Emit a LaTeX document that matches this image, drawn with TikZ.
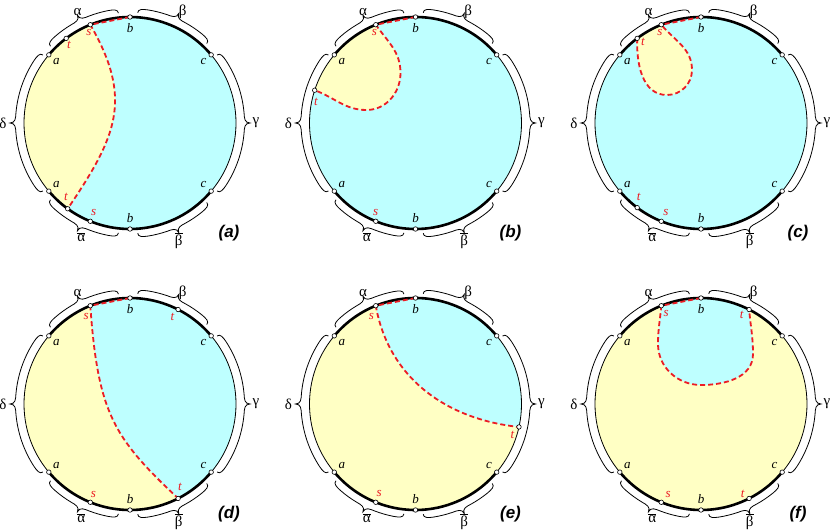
\documentclass[tikz,border=0pt]{standalone}
\usepackage{fontspec}
\setmainfont{Liberation Serif}
\newfontfamily\sansbi{Liberation Sans}
\definecolor{cy}{RGB}{190,255,255}
\definecolor{yl}{RGB}{255,255,196}
\definecolor{rd}{RGB}{236,28,36}
\tikzset{
 ring/.style={line width=0.8pt},
 thickarc/.style={line width=2.6pt},
 dsh/.style={draw=rd, line width=1.8pt, dash pattern=on 5pt off 3pt},
 ptnode/.style={circle, draw=black, fill=white, line width=0.6pt, inner sep=0pt, minimum size=4.5pt},
 bracestyle/.style={line width=0.8pt},
 lbl/.style={font=\fontsize{13}{15}\selectfont\itshape, inner sep=0pt},
 rlbl/.style={lbl, text=rd},
 gk/.style={font=\fontsize{15}{17}\selectfont, inner sep=0pt},
 ptitle/.style={font=\sansbi\bfseries\itshape\fontsize{17}{20}\selectfont, inner sep=0pt},
}
\newcommand\cbrace[2]{%
 \pgfmathsetmacro\cbA{#1}\pgfmathsetmacro\cbB{#2}%
 \pgfmathsetmacro\cbM{(#1+#2)/2}%
 \pgfmathsetmacro\cbAa{#1+2.5}\pgfmathsetmacro\cbAb{#1+5}%
 \pgfmathsetmacro\cbMa{\cbM-5}\pgfmathsetmacro\cbMb{\cbM-2.5}%
 \pgfmathsetmacro\cbMc{\cbM+2.5}\pgfmathsetmacro\cbMd{\cbM+5}%
 \pgfmathsetmacro\cbBa{#2-5}\pgfmathsetmacro\cbBb{#2-2.5}%
 \draw[bracestyle] (\cbA:110.5) .. controls (\cbA:114.5) and (\cbAa:114.5) .. (\cbAb:114.5)
   arc[start angle=\cbAb, end angle=\cbMa, radius=114.5]
   .. controls (\cbMb:114.5) and (\cbM:114.5) .. (\cbM:120)
   .. controls (\cbM:114.5) and (\cbMc:114.5) .. (\cbMd:114.5)
   arc[start angle=\cbMd, end angle=\cbBa, radius=114.5]
   .. controls (\cbBb:114.5) and (\cbB:114.5) .. (\cbB:110.5);
}
\newcommand\ringbase[1]{%
 \coordinate (#1a) at (140:106); \coordinate (#1b) at (90:106); \coordinate (#1c) at (40:106);
 \coordinate (#1a2) at (220:106); \coordinate (#1b2) at (270:106); \coordinate (#1c2) at (320:106);
 \draw[ring] (0,0) circle[radius=106];
 \draw[thickarc] (#1a) arc[start angle=140,end angle=40,radius=106];
 \draw[thickarc] (#1a2) arc[start angle=220,end angle=320,radius=106];
 \cbrace{96}{136}\cbrace{46}{86}\cbrace{142}{218}\cbrace{-38}{38}\cbrace{224}{264}\cbrace{274}{314}
 \node[gk, anchor=base] (#1lal) at (116:119.5) {α};
 \node[gk, anchor=base] (#1lbe) at (64:120) {β};
 \node[gk] (#1lde) at (180:127) {δ};
 \node[gk] (#1lga) at (0:126) {γ};
 \node[gk, anchor=north] (#1lalb) at (246:120) {$\overline{\hbox{α}}$};
 \node[gk, anchor=north] (#1lbeb) at (294:120) {$\overline{\hbox{β}}$};
 \node[lbl] (#1la) at (140:96) {a}; \node[lbl] (#1lb) at (90:95) {b}; \node[lbl] (#1lc) at (40:96) {c};
 \node[lbl] (#1la2) at (220:96) {a}; \node[lbl] (#1lb2) at (270:95) {b}; \node[lbl] (#1lc2) at (320:96) {c};
}
\newcommand\ringpoints[1]{%
 \node[ptnode] (#1pa) at (#1a) {}; \node[ptnode] (#1pb) at (#1b) {}; \node[ptnode] (#1pc) at (#1c) {};
 \node[ptnode] (#1pa2) at (#1a2) {}; \node[ptnode] (#1pb2) at (#1b2) {}; \node[ptnode] (#1pc2) at (#1c2) {};
}
\begin{document}
\begin{tikzpicture}[x=1pt,y=1pt]
\useasboundingbox (0,0) rectangle (831,531);
% ---------------- (a)
\begin{scope}[shift={(130,408)}]
 \coordinate (As) at (112:106); \coordinate (At) at (127:106);
 \coordinate (As2) at (248:106); \coordinate (At2) at (234:106);
 \fill[cy] (0,0) circle[radius=106];
 \fill[yl] (As) to[out=-60,in=56,looseness=1.2] (At2) arc[start angle=234,end angle=112,radius=106] -- cycle;
 \ringbase{A}
 \draw[dsh] (Ab) -- (As) to[out=-60,in=56,looseness=1.2] (At2);
 \ringpoints{A}
 \node[ptnode] (Aps) at (As) {}; \node[ptnode] (Apt) at (At) {};
 \node[ptnode] (Aps2) at (As2) {}; \node[ptnode] (Apt2) at (At2) {};
 \node[rlbl] (Als) at (114.5:99) {s}; \node[rlbl] (Alt) at (128:99) {t};
 \node[rlbl] (Als2) at (248:97) {s}; \node[rlbl] (Alt2) at (229:97.6) {t};
 \node[ptitle] (Atitle) at (99,-110) {(a)};
\end{scope}
% ---------------- (b)
\begin{scope}[shift={(415.5,408)}]
 \coordinate (Bs) at (112:106); \coordinate (Bt) at (162:106);
 \coordinate (Bs2) at (248:106);
 \fill[cy] (0,0) circle[radius=106];
 \fill[yl] (Bs) to[out=-55,in=90] (-15,50) to[out=-90,in=0] (-49,13) to[out=180,in=-20] (Bt)
   arc[start angle=162,end angle=112,radius=106] -- cycle;
 \ringbase{B}
 \draw[dsh] (Bb) -- (Bs) to[out=-55,in=90] (-15,50) to[out=-90,in=0] (-49,13) to[out=180,in=-20] (Bt);
 \ringpoints{B}
 \node[ptnode] (Bps) at (Bs) {}; \node[ptnode] (Bpt) at (Bt) {}; \node[ptnode] (Bps2) at (Bs2) {};
 \node[rlbl] (Bls) at (114.5:99) {s}; \node[rlbl] (Blt) at (-99.5,21.3) {t};
 \node[rlbl] (Bls2) at (246:98) {s};
 \node[ptitle] (Btitle) at (95,-110) {(b)};
\end{scope}
% ---------------- (c)
\begin{scope}[shift={(701,408)}]
 \coordinate (Cs) at (112:106); \coordinate (Ct) at (127:106);
 \coordinate (Cs2) at (248:106); \coordinate (Ct2) at (233:106);
 \fill[cy] (0,0) circle[radius=106];
 \fill[yl] (Ct) to[out=-92,in=180] (-34,28) to[out=0,in=-90] (-9,53) to[out=90,in=-50] (Cs)
   arc[start angle=112,end angle=127,radius=106] -- cycle;
 \ringbase{C}
 \draw[dsh] (Cb) -- (Cs);
 \draw[dsh] (Ct) to[out=-92,in=180] (-34,28) to[out=0,in=-90] (-9,53) to[out=90,in=-50] (Cs);
 \ringpoints{C}
 \node[ptnode] (Cps) at (Cs) {}; \node[ptnode] (Cpt) at (Ct) {};
 \node[ptnode] (Cps2) at (Cs2) {}; \node[ptnode] (Cpt2) at (Ct2) {};
 \node[rlbl] (Cls) at (114.5:99) {s}; \node[rlbl] (Clt) at (-58,81.3) {t};
 \node[rlbl] (Cls2) at (248.7:96.6) {s}; \node[rlbl] (Clt2) at (230:97) {t};
 \node[ptitle] (Ctitle) at (97,-110) {(c)};
\end{scope}
% ---------------- (d)
\begin{scope}[shift={(130,127)}]
 \coordinate (Ds) at (112:106); \coordinate (Dt) at (63:106);
 \coordinate (Ds2) at (248:106); \coordinate (Dt2) at (297:106);
 \fill[yl] (0,0) circle[radius=106];
 \fill[cy] (Ds) .. controls (-32,-10) and (-16,-34) .. (Dt2) arc[start angle=297,end angle=472,radius=106] -- cycle;
 \ringbase{D}
 \draw[dsh] (Db) -- (Ds) .. controls (-32,-10) and (-16,-34) .. (Dt2);
 \ringpoints{D}
 \node[ptnode] (Dps) at (Ds) {}; \node[ptnode] (Dpt) at (Dt) {};
 \node[ptnode] (Dps2) at (Ds2) {}; \node[ptnode] (Dpt2) at (Dt2) {};
 \node[rlbl] (Dls) at (116.7:97.8) {s}; \node[rlbl] (Dlt) at (64:97) {t};
 \node[rlbl] (Dls2) at (248:97.5) {s}; \node[rlbl] (Dlt2) at (301:97) {t};
 \node[ptitle] (Dtitle) at (99,-110) {(d)};
\end{scope}
% ---------------- (e)
\begin{scope}[shift={(415.5,127)}]
 \coordinate (Es) at (112:106); \coordinate (Et) at (-12.5:106);
 \coordinate (Es2) at (248:106);
 \fill[yl] (0,0) circle[radius=106];
 \fill[cy] (Es) to[out=-80,in=174] (Et) arc[start angle=-12.5,end angle=112,radius=106] -- cycle;
 \ringbase{E}
 \draw[dsh] (Eb) -- (Es) to[out=-80,in=174] (Et);
 \ringpoints{E}
 \node[ptnode] (Eps) at (Es) {}; \node[ptnode] (Ept) at (Et) {}; \node[ptnode] (Eps2) at (Es2) {};
 \node[rlbl] (Els) at (116.7:98) {s}; \node[rlbl] (Elt) at (97,-31) {t};
 \node[rlbl] (Els2) at (248:97) {s};
 \node[ptitle] (Etitle) at (95,-110) {(e)};
\end{scope}
% ---------------- (f)
\begin{scope}[shift={(701,127)}]
 \coordinate (Fs) at (112:106); \coordinate (Ft) at (63:106);
 \coordinate (Fs2) at (248:106); \coordinate (Ft2) at (297:106);
 \fill[yl] (0,0) circle[radius=106];
 \fill[cy] (Fs) to[out=-95,in=90] (-43,60) to[out=-90,in=180] (0,19) to[out=0,in=-90] (52,50) to[out=90,in=-85] (Ft)
   arc[start angle=63,end angle=112,radius=106] -- cycle;
 \ringbase{F}
 \draw[dsh] (Fb) -- (Fs) to[out=-95,in=90] (-43,60) to[out=-90,in=180] (0,19) to[out=0,in=-90] (52,50) to[out=90,in=-85] (Ft);
 \ringpoints{F}
 \node[ptnode] (Fps) at (Fs) {}; \node[ptnode] (Fpt) at (Ft) {};
 \node[ptnode] (Fps2) at (Fs2) {}; \node[ptnode] (Fpt2) at (Ft2) {};
 \node[rlbl] (Fls) at (111:97) {s}; \node[rlbl] (Flt) at (65.4:97.9) {t};
 \node[rlbl] (Fls2) at (250:96) {s}; \node[rlbl] (Flt2) at (294.8:99.4) {t};
 \node[ptitle] (Ftitle) at (97,-110) {(f)};
\end{scope}
\end{tikzpicture}
\end{document}
